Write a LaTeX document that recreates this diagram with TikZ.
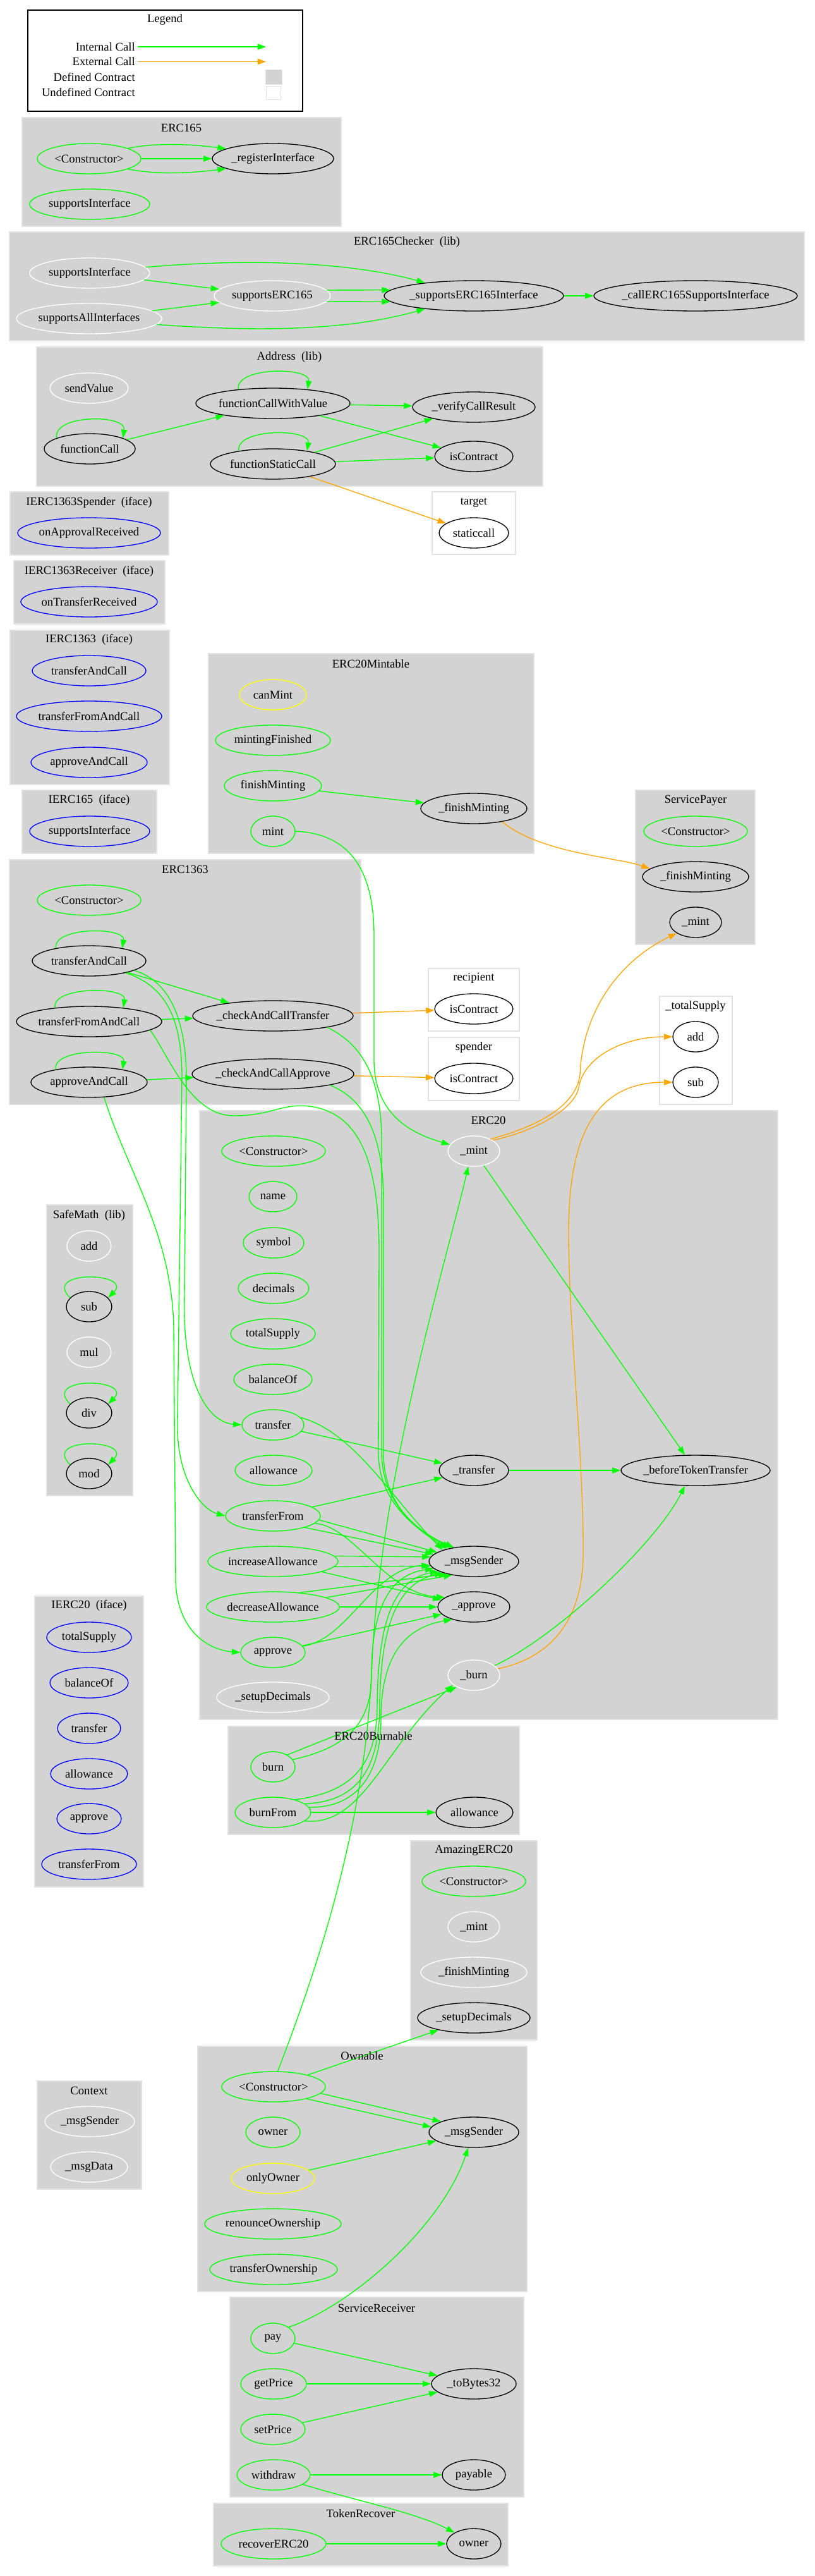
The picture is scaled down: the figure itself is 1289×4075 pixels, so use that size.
\documentclass[tikz,border=0pt]{standalone}
\usepackage{fontspec}
\setmainfont{Liberation Serif}
\usetikzlibrary{shapes.geometric,arrows.meta}
\definecolor{cgreen}{HTML}{00FF00}
\definecolor{corange}{HTML}{FFA500}
\definecolor{cblue}{HTML}{0000FF}
\definecolor{cyellow}{HTML}{FFFF00}
\definecolor{cfill}{HTML}{D3D3D3}
\definecolor{cborder}{HTML}{E2E2E2}
\newcommand\dgfont{\fontsize{14pt}{16.8pt}\selectfont}
\begin{document}
\begin{tikzpicture}[x=0.75pt,y=-0.75pt,
  fn/.style={ellipse, draw=#1, line width=1pt, minimum height=36pt, inner sep=0pt, inner xsep=-4pt, font=\dgfont, text=black},
  ew/.style={minimum width=#1*1.5pt},
  lab/.style={font=\dgfont, inner sep=0pt},
  cl/.style={fill=cfill, draw=cborder, line width=1pt},
  ucl/.style={fill=white, draw=cborder, line width=1pt},
  ge/.style={draw=cgreen, line width=1pt, -{Triangle[length=10pt,width=7pt]}},
  oe/.style={draw=corange, line width=1pt, -{Triangle[length=10pt,width=7pt]}}]
\useasboundingbox (0,0) rectangle (1289,4075);
\fill[white] (0,0) rectangle (1289,4075);

% ---------- legend ----------
\draw[line width=1pt] (44,16) rectangle (479,176);
\node[lab] (lgTitle) at (261,31) {Legend};
\node[lab, anchor=east] (lgInt) at (214,74) {Internal Call};
\node[lab, anchor=east] (lgExt) at (214,97.5) {External Call};
\node[lab, anchor=east] (lgDef) at (214,122) {Defined Contract};
\node[lab, anchor=east] (lgUnd) at (214,146) {Undefined Contract};
\coordinate (lgIntE) at (421,74);
\coordinate (lgExtE) at (421,97.5);
\node[draw=cborder, fill=cfill, minimum width=19.5pt, minimum height=17pt, inner sep=0pt] (lgDefBox) at (433,121.5) {};
\node[draw=cborder, fill=white, minimum width=17pt, minimum height=16pt, inner sep=0pt] (lgUndBox) at (432.5,146.5) {};

% ---------- clusters ----------
\path[cl] (35,186) rectangle (540,358);
\node[lab] (tERC165) at (287,202) {ERC165};
\path[cl] (15,367) rectangle (1273,539);
\node[lab] (tChecker) at (644,383) {ERC165Checker\ \ (lib)};
\path[cl] (58,549) rectangle (859,769);
\node[lab] (tAddress) at (458,565) {Address\ \ (lib)};
\path[ucl] (684,778) rectangle (816,877);
\node[lab] (tTarget) at (750,795) {target};
\path[cl] (16,778) rectangle (267,878);
\node[lab] (tSpIf) at (141,795) {IERC1363Spender\ \ (iface)};
\path[cl] (22,887) rectangle (261,987);
\node[lab] (tRcIf) at (141,904) {IERC1363Receiver\ \ (iface)};
\path[cl] (16,997) rectangle (268,1241);
\node[lab] (tI1363) at (141,1012) {IERC1363\ \ (iface)};
\path[cl] (35,1250) rectangle (248,1350);
\node[lab] (tI165) at (141,1266) {IERC165\ \ (iface)};
\path[cl] (330,1034) rectangle (845,1350);
\node[lab] (tMint) at (587,1050) {ERC20Mintable};
\path[cl] (1006,1250) rectangle (1195,1494);
\node[lab] (tSP) at (1101,1266) {ServicePayer};
\path[cl] (15,1360) rectangle (571,1747);
\node[lab] (tE1363) at (293,1375) {ERC1363};
\path[ucl] (678,1532) rectangle (822,1631);
\node[lab] (tRecip) at (750,1547) {recipient};
\path[ucl] (678,1641) rectangle (822,1741);
\node[lab] (tSpender) at (750,1657) {spender};
\path[ucl] (1044,1576) rectangle (1159,1747);
\node[lab] (tTS) at (1101,1592) {\_totalSupply};
\path[cl] (316,1757) rectangle (1231,2720);
\node[lab] (tERC20) at (773,1772) {ERC20};
\path[cl] (74,1906) rectangle (210,2366);
\node[lab] (tSafe) at (141,1923) {SafeMath\ \ (lib)};
\path[cl] (55,2525) rectangle (227,2985);
\node[lab] (tIERC20) at (141,2540) {IERC20\ \ (iface)};
\path[cl] (361,2731) rectangle (822,2902);
\path[cl] (650,2912) rectangle (850,3227);
\node[lab] (tAmz) at (750,2927) {AmazingERC20};
\path[cl] (313,3237) rectangle (834,3625);
\path[cl] (59,3292) rectangle (224,3463);
\node[lab] (tCtx) at (141,3307) {Context};
\path[cl] (364,3634) rectangle (829,3950);
\path[cl] (338,3960) rectangle (804,4059);

% ---------- nodes ----------
% ERC165
\node[fn=cgreen, ew=82] (e165ctor) at (141,251) {<Constructor>};
\node[fn=black, ew=96] (e165reg) at (432,251) {\_registerInterface};
\node[fn=cgreen, ew=95] (e165si) at (142,323) {supportsInterface};
% ERC165Checker
\node[fn=white, ew=95] (chkSI) at (142,432) {supportsInterface};
\node[fn=white, ew=115] (chkSAI) at (141,504) {supportsAllInterfaces};
\node[fn=white, ew=92] (chkS165) at (431,468) {supportsERC165};
\node[fn=black, ew=142] (chkSupp) at (750,468) {\_supportsERC165Interface};
\node[fn=black, ew=161] (chkCall) at (1101,468) {\_callERC165SupportsInterface};
% Address
\node[fn=white, ew=62] (aSend) at (141,614) {sendValue};
\node[fn=black, ew=122] (aFCWV) at (432,638) {functionCallWithValue};
\node[fn=black, ew=97] (aVerify) at (750,644) {\_verifyCallResult};
\node[fn=black, ew=72] (aFC) at (142,710) {functionCall};
\node[fn=black, ew=99] (aFSC) at (432,734) {functionStaticCall};
\node[fn=black, ew=62] (aIsC) at (750,722) {isContract};
\node[fn=black, ew=55] (tStatic) at (750,843) {staticcall};
% interfaces
\node[fn=cblue, ew=113] (sOAR) at (141,843) {onApprovalReceived};
\node[fn=cblue, ew=108] (rOTR) at (141,952) {onTransferReceived};
\node[fn=cblue, ew=90] (i1TAC) at (141,1061) {transferAndCall};
\node[fn=cblue, ew=115] (i1TFAC) at (141,1133) {transferFromAndCall};
\node[fn=cblue, ew=92] (i1AAC) at (141,1206) {approveAndCall};
\node[fn=cblue, ew=95] (i165SI) at (142,1315) {supportsInterface};
% ERC20Mintable
\node[fn=cyellow, ew=53] (mCan) at (432,1099) {canMint};
\node[fn=cgreen, ew=91] (mFin) at (432,1171) {mintingFinished};
\node[fn=cgreen, ew=77] (mFM) at (432,1243) {finishMinting};
\node[fn=cgreen, ew=35] (mMint) at (432,1315) {mint};
\node[fn=black, ew=84] (m_FM) at (750,1279) {\_finishMinting};
% ServicePayer
\node[fn=cgreen, ew=82] (spCtor) at (1101,1315) {<Constructor>};
\node[fn=black, ew=84] (spFM) at (1101,1387) {\_finishMinting};
\node[fn=black, ew=41] (spMint) at (1101,1459) {\_mint};
% ERC1363
\node[fn=cgreen, ew=82] (e1Ctor) at (141,1424) {<Constructor>};
\node[fn=black, ew=90] (e1TAC) at (141,1520) {transferAndCall};
\node[fn=black, ew=115] (e1TFAC) at (141,1616) {transferFromAndCall};
\node[fn=black, ew=92] (e1AAC) at (141,1712) {approveAndCall};
\node[fn=black, ew=127] (e1CT) at (432,1607) {\_checkAndCallTransfer};
\node[fn=black, ew=128] (e1CA) at (432,1699) {\_checkAndCallApprove};
\node[fn=black, ew=62] (recIsC) at (750,1596) {isContract};
\node[fn=black, ew=62] (spIsC) at (750,1706) {isContract};
\node[fn=black, ew=36] (tsAdd) at (1101,1640) {add};
\node[fn=black, ew=36] (tsSub) at (1101,1712) {sub};
% ERC20
\node[fn=cgreen, ew=82] (eCtor) at (433,1821) {<Constructor>};
\node[fn=white, ew=41] (eMint) at (750,1821) {\_mint};
\node[fn=cgreen, ew=38] (eName) at (432,1893) {name};
\node[fn=cgreen, ew=48] (eSymbol) at (433,1966) {symbol};
\node[fn=cgreen, ew=56] (eDecimals) at (433,2038) {decimals};
\node[fn=cgreen, ew=67] (eTotal) at (432,2110) {totalSupply};
\node[fn=cgreen, ew=62] (eBalance) at (432,2182) {balanceOf};
\node[fn=cgreen, ew=49] (eTransfer) at (432,2254) {transfer};
\node[fn=cgreen, ew=61] (eAllowance) at (433,2326) {allowance};
\node[fn=cgreen, ew=75] (eTF) at (432,2398) {transferFrom};
\node[fn=cgreen, ew=103] (eInc) at (432,2470) {increaseAllowance};
\node[fn=cgreen, ew=105] (eDec) at (432,2542) {decreaseAllowance};
\node[fn=cgreen, ew=51] (eApprove) at (432,2614) {approve};
\node[fn=white, ew=89] (eSetup) at (432,2685) {\_setupDecimals};
\node[fn=black, ew=55] (e_Transfer) at (750,2326) {\_transfer};
\node[fn=black, ew=118] (eBefore) at (1101,2326) {\_beforeTokenTransfer};
\node[fn=black, ew=71] (eMsg) at (750,2470) {\_msgSender};
\node[fn=black, ew=57] (e_Approve) at (750,2542) {\_approve};
\node[fn=white, ew=41] (eBurn) at (750,2650) {\_burn};
% SafeMath
\node[fn=white, ew=35] (smAdd) at (141,1971) {add};
\node[fn=black, ew=36] (smSub) at (141,2067) {sub};
\node[fn=white, ew=35] (smMul) at (141,2139) {mul};
\node[fn=black, ew=36] (smDiv) at (141,2235) {div};
\node[fn=black, ew=36] (smMod) at (141,2331) {mod};
% IERC20
\node[fn=cblue, ew=67] (iTS) at (141,2590) {totalSupply};
\node[fn=cblue, ew=62] (iBal) at (141,2662) {balanceOf};
\node[fn=cblue, ew=50] (iTr) at (141,2734) {transfer};
\node[fn=cblue, ew=61] (iAll) at (141,2806) {allowance};
\node[fn=cblue, ew=51] (iApp) at (141,2877) {approve};
\node[fn=cblue, ew=75] (iTF) at (141,2949) {transferFrom};
% ERC20Burnable
\node[fn=cgreen, ew=35] (bBurn) at (432,2795) {burn};
\node[fn=cgreen, ew=60] (bBF) at (432,2867) {burnFrom};
\node[fn=black, ew=61] (bAll) at (751,2867) {allowance};
% AmazingERC20
\node[fn=cgreen, ew=82] (amCtor) at (750,2976) {<Constructor>};
\node[fn=white, ew=41] (amMint) at (750,3048) {\_mint};
\node[fn=white, ew=84] (amFM) at (750,3120) {\_finishMinting};
\node[fn=black, ew=89] (amSetup) at (750,3192) {\_setupDecimals};
% Ownable
\node[fn=cgreen, ew=82] (oCtor) at (433,3301) {<Constructor>};
\node[fn=cgreen, ew=43] (oOwner) at (432,3373) {owner};
\node[fn=cyellow, ew=66] (oOnly) at (432,3446) {onlyOwner};
\node[fn=cgreen, ew=108] (oRen) at (432,3518) {renounceOwnership};
\node[fn=cgreen, ew=101] (oTO) at (433,3590) {transferOwnership};
\node[fn=black, ew=71] (oMsg) at (750,3373) {\_msgSender};
% Context
\node[fn=white, ew=71] (cMsg) at (142,3356) {\_msgSender};
\node[fn=white, ew=61] (cData) at (141,3428) {\_msgData};
% ServiceReceiver
\node[fn=cgreen, ew=35] (srPay) at (432,3699) {pay};
\node[fn=cgreen, ew=52] (srGet) at (433,3771) {getPrice};
\node[fn=cgreen, ew=51] (srSet) at (432,3843) {setPrice};
\node[fn=cgreen, ew=58] (srW) at (433,3915) {withdraw};
\node[fn=black, ew=67] (srTo) at (750,3771) {\_toBytes32};
\node[fn=black, ew=50] (srPayable) at (750,3915) {payable};
% TokenRecover
\node[fn=cgreen, ew=83] (trRec) at (433,4024) {recoverERC20};
\node[fn=black, ew=43] (trOwner) at (750,4024) {owner};

% ---------- edges ----------
\draw[ge] ([xshift=3pt]lgInt.east) -- (lgIntE);
\draw[oe] ([xshift=3pt]lgExt.east) -- (lgExtE);

% ERC165
\draw[ge] (e165ctor.15) .. controls +(50,-10) and +(-45,-6) .. (e165reg.168);
\draw[ge] (e165ctor) -- (e165reg);
\draw[ge] (e165ctor.-15) .. controls +(50,10) and +(-45,6) .. (e165reg.-168);
% Checker
\draw[ge] (chkSI.6) .. controls +(210,-18) and +(-90,-25) .. (chkSupp.165);
\draw[ge] (chkSI) -- (chkS165);
\draw[ge] (chkSAI) -- (chkS165);
\draw[ge] (chkSAI.-5) .. controls +(220,16) and +(-90,25) .. (chkSupp.-165);
\draw[ge] (chkS165.6) -- (chkSupp.176);
\draw[ge] (chkS165.-6) -- (chkSupp.-176);
\draw[ge] (chkSupp) -- (chkCall);
% Address
\draw[ge] (aFCWV.158) .. controls +(-6,-36) and +(6,-36) .. (aFCWV.22);
\draw[ge] (aFC.162) .. controls +(-6,-38) and +(6,-38) .. (aFC.18);
\draw[ge] (aFSC.159) .. controls +(-6,-36) and +(6,-36) .. (aFSC.21);
\draw[ge] (aFC) -- (aFCWV);
\draw[ge] (aFCWV) -- (aVerify);
\draw[ge] (aFCWV) -- (aIsC);
\draw[ge] (aFSC) -- (aVerify);
\draw[ge] (aFSC) -- (aIsC);
\draw[oe] (aFSC) -- (tStatic);
% ERC20Mintable
\draw[ge] (mFM) -- (m_FM);
\draw[oe] (m_FM.-25) .. controls +(60,50) and +(-50,-18) .. (spFM.170);
\draw[ge] (mMint.east) .. controls (540,1318) and (592,1360) .. (592,1480) -- (592,1680) .. controls (594,1770) and (660,1795) .. (eMint.165);
% ERC1363
\draw[ge] (e1TAC.159) .. controls +(-6,-34) and +(6,-34) .. (e1TAC.21);
\draw[ge] (e1TFAC.158) .. controls +(-6,-34) and +(6,-34) .. (e1TFAC.22);
\draw[ge] (e1AAC.159) .. controls +(-6,-34) and +(6,-34) .. (e1AAC.21);
\draw[ge] (e1TAC) -- (e1CT);
\draw[ge] (e1TFAC) -- (e1CT);
\draw[ge] (e1AAC) -- (e1CA);
\draw[oe] (e1CT) -- (recIsC);
\draw[oe] (e1CA) -- (spIsC);
\draw[ge] (e1TAC.-12) .. controls (262,1550) and (293,1600) .. (295,1700) -- (292,2050) .. controls (288,2190) and (330,2250) .. (eTransfer.west);
\draw[ge] (e1TAC.-18) .. controls (262,1560) and (287,1610) .. (288,1700) -- (281,2250) .. controls (279,2340) and (320,2388) .. (eTF.west);
\draw[ge] (e1AAC.-45) .. controls (200,1850) and (272,1950) .. (275,2100) -- (278,2500) .. controls (280,2580) and (330,2610) .. (eApprove.west);
\draw[ge] (e1TFAC.-8) .. controls (265,1665) and (300,1765) .. (370,1765) .. controls (430,1765) and (445,1745) .. (490,1750) .. controls (565,1760) and (600,1830) .. (600,1980) -- (599,2300) .. controls (600,2375) and (655,2415) .. (eMsg.155);
\draw[ge] (e1CT.-12) .. controls (570,1650) and (603,1700) .. (604,1800) -- (604,2300) .. controls (606,2380) and (660,2420) .. (eMsg.150);
\draw[ge] (e1CA.-11) .. controls (580,1740) and (607,1800) .. (607,1900) -- (607,2300) .. controls (608,2385) and (665,2425) .. (eMsg.145);
% ERC20 external/orange
\draw[oe] (eMint.30) .. controls (845,1790) and (910,1755) .. (916,1720) .. controls (925,1670) and (990,1640) .. (tsAdd.180);
\draw[oe] (eMint.36) .. controls (850,1782) and (912,1750) .. (918,1700) .. controls (922,1600) and (980,1520) .. (spMint.210);
\draw[oe] (eBurn.15) .. controls (860,2625) and (922,2575) .. (923,2460) .. controls (924,2300) and (900,2100) .. (900,1950) .. controls (900,1800) and (940,1712) .. (tsSub.180);
% ERC20 internal
\draw[ge] (eMint) -- (eBefore);
\draw[ge] (e_Transfer) -- (eBefore);
\draw[ge] (eBurn.25) .. controls (880,2590) and (1040,2440) .. (eBefore.235);
\draw[ge] (eTransfer) -- (e_Transfer);
\draw[ge] (eTransfer.15) .. controls (560,2265) and (620,2370) .. (eMsg.160);
\draw[ge] (eTF) -- (e_Transfer);
\draw[ge] (eTF.-5) -- (eMsg.166);
\draw[ge] (eTF.-20) -- (eMsg.170);
\draw[ge] (eTF.-10) .. controls (560,2415) and (610,2520) .. (e_Approve.162);
\draw[ge] (eInc.5) -- (eMsg.174);
\draw[ge] (eInc.-5) -- (eMsg.-174);
\draw[ge] (eInc.-12) -- (e_Approve.168);
\draw[ge] (eDec.28) -- (eMsg.205);
\draw[ge] (eDec.10) -- (eMsg.212);
\draw[ge] (eDec) -- (e_Approve);
\draw[ge] (eApprove) -- (e_Approve);
\draw[ge] (eApprove.12) .. controls (550,2595) and (590,2480) .. (eMsg.185);
% SafeMath loops
\draw[ge] (smSub.155) .. controls +(-45,-45) and +(40,-40) .. (smSub.25);
\draw[ge] (smDiv.155) .. controls +(-45,-45) and +(40,-40) .. (smDiv.25);
\draw[ge] (smMod.155) .. controls +(-45,-45) and +(40,-40) .. (smMod.25);
% ERC20Burnable
\draw[ge] (bBF) -- (bAll);
\draw[ge] (bBurn.40) -- (eBurn.215);
\draw[ge] (bBurn.20) .. controls (545,2765) and (588,2730) .. (588,2650) .. controls (588,2530) and (625,2490) .. (eMsg.190);
\draw[ge] (bBF.30) .. controls (560,2835) and (596,2790) .. (597,2700) .. controls (598,2560) and (625,2500) .. (eMsg.195);
\draw[ge] (bBF.15) .. controls (565,2850) and (600,2800) .. (601,2700) .. controls (602,2570) and (630,2505) .. (eMsg.200);
\draw[ge] (bBF.8) .. controls (570,2860) and (603,2800) .. (603,2720) .. controls (603,2620) and (640,2575) .. (e_Approve.210);
\draw[ge] (bBF.-15) .. controls (575,2890) and (610,2760) .. (eBurn.205);
% Ownable
\draw[ge] (oCtor.75) .. controls (500,3120) and (575,2900) .. (588,2650) .. controls (598,2350) and (705,2000) .. (eMint.250);
\draw[ge] (oCtor) -- (amSetup);
\draw[ge] (oCtor.-8) -- (oMsg.162);
\draw[ge] (oCtor.-20) -- (oMsg.173);
\draw[ge] (oOnly) -- (oMsg);
% ServiceReceiver
\draw[ge] (srPay.35) .. controls (560,3645) and (700,3520) .. (oMsg.250);
\draw[ge] (srPay) -- (srTo);
\draw[ge] (srGet) -- (srTo);
\draw[ge] (srSet) -- (srTo);
\draw[ge] (srW) -- (srPayable);
\draw[ge] (srW.-18) .. controls (560,3955) and (660,3975) .. (trOwner.150);
% TokenRecover
\draw[ge] (trRec) -- (trOwner);

% labels drawn over edges
\node[lab] (tBurnable) at (591,2746) {ERC20Burnable};
\node[lab] (tOwnable) at (573,3252) {Ownable};
\node[lab] (tSR) at (596,3651) {ServiceReceiver};
\node[lab] (tTR) at (571,3976) {TokenRecover};
\end{tikzpicture}
\end{document}
